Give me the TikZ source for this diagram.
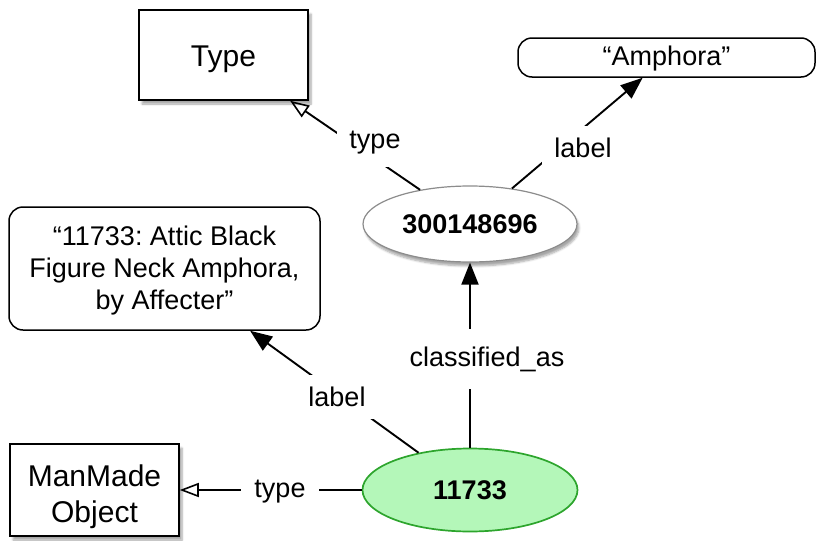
\documentclass[tikz,border=0pt]{standalone}
\usepackage{fontspec}
\setmainfont{Liberation Sans}
\frenchspacing
\usetikzlibrary{arrows.meta,shapes.geometric,shadows.blur}
\definecolor{nodegreen}{HTML}{B4F7B9}
\definecolor{edgegreen}{HTML}{2DA52D}
\definecolor{ellgrey}{HTML}{8C8C8C}
\newcommand{\lowertxt}[2]{\raisebox{-#1}[\height][\depth]{#2}}
\tikzset{
  conn/.style={line width=1.9pt, draw=black},
  openarr/.style={conn, -{Triangle[open, length=19pt, width=14pt, line width=1.6pt]}},
  fillarr/.style={conn, -{Triangle[length=22pt, width=17pt]}},
  typebox/.style={draw, line width=1.5pt, fill=white, rectangle, inner sep=0pt,
    font=\fontsize{30}{36}\selectfont,
    blur shadow={shadow blur steps=6, shadow xshift=3pt, shadow yshift=-4pt, shadow opacity=35}},
  litbox/.style={draw, line width=1.5pt, fill=white, rectangle, rounded corners=14pt, inner sep=0pt,
    font=\fontsize{27}{32}\selectfont},
  resell/.style={ellipse, draw=ellgrey, line width=1.2pt, fill=white, inner sep=0pt,
    font=\bfseries\fontsize{27}{32}\selectfont,
    blur shadow={shadow blur steps=6, shadow xshift=2pt, shadow yshift=-4pt, shadow opacity=35}},
  mainell/.style={ellipse, draw=edgegreen, line width=1.7pt, fill=nodegreen, inner sep=0pt,
    font=\bfseries\fontsize{27}{32}\selectfont},
  elbl/.style={fill=white, font=\fontsize{27}{32}\selectfont, inner xsep=12pt, inner ysep=12pt}
}
\begin{document}
\begin{tikzpicture}[x=1pt, y=-1pt]
\useasboundingbox (0,0) rectangle (817,541);
% nodes
\node[typebox, minimum width=169pt, minimum height=90pt] (type) at (223.5,55) {\lowertxt{4pt}{Type}};
\node[litbox, minimum width=297pt, minimum height=39pt] (amph) at (666.5,57.5) {\lowertxt{1pt}{“Amphora”}};
\node[resell, minimum width=214pt, minimum height=76pt] (aat) at (470,224) {300148696};
\node[litbox, minimum width=311pt, minimum height=123pt] (lab) at (164.5,268.5)
  {\lowertxt{3pt}{\begin{tabular}{@{}c@{}}“11733: Attic Black\\Figure Neck Amphora,\\by Affecter”\end{tabular}}};
\node[typebox, minimum width=169pt, minimum height=92pt] (mmo) at (94.5,490)
  {\lowertxt{7pt}{\begin{tabular}{@{}c@{}}ManMade\\Object\end{tabular}}};
\node[mainell, minimum width=215pt, minimum height=83pt] (obj) at (470,490) {11733};
% connectors
\draw[openarr] (aat) -- (type);
\draw[fillarr] (aat) -- (amph);
\draw[fillarr] (obj) -- (aat);
\draw[fillarr] (obj) -- (lab);
\draw[openarr] (obj) -- (mmo);
% connector labels
\node[elbl] (l1) at (375,143) {type};
\node[elbl] (l2) at (583,148) {label};
\node[elbl, inner ysep=18pt] (l3) at (487,359) {classified\_as};
\node[elbl] (l4) at (337,397) {label};
\node[elbl, inner xsep=13pt, inner ysep=4pt] (l5) at (280,492) {type};
\end{tikzpicture}
\end{document}
